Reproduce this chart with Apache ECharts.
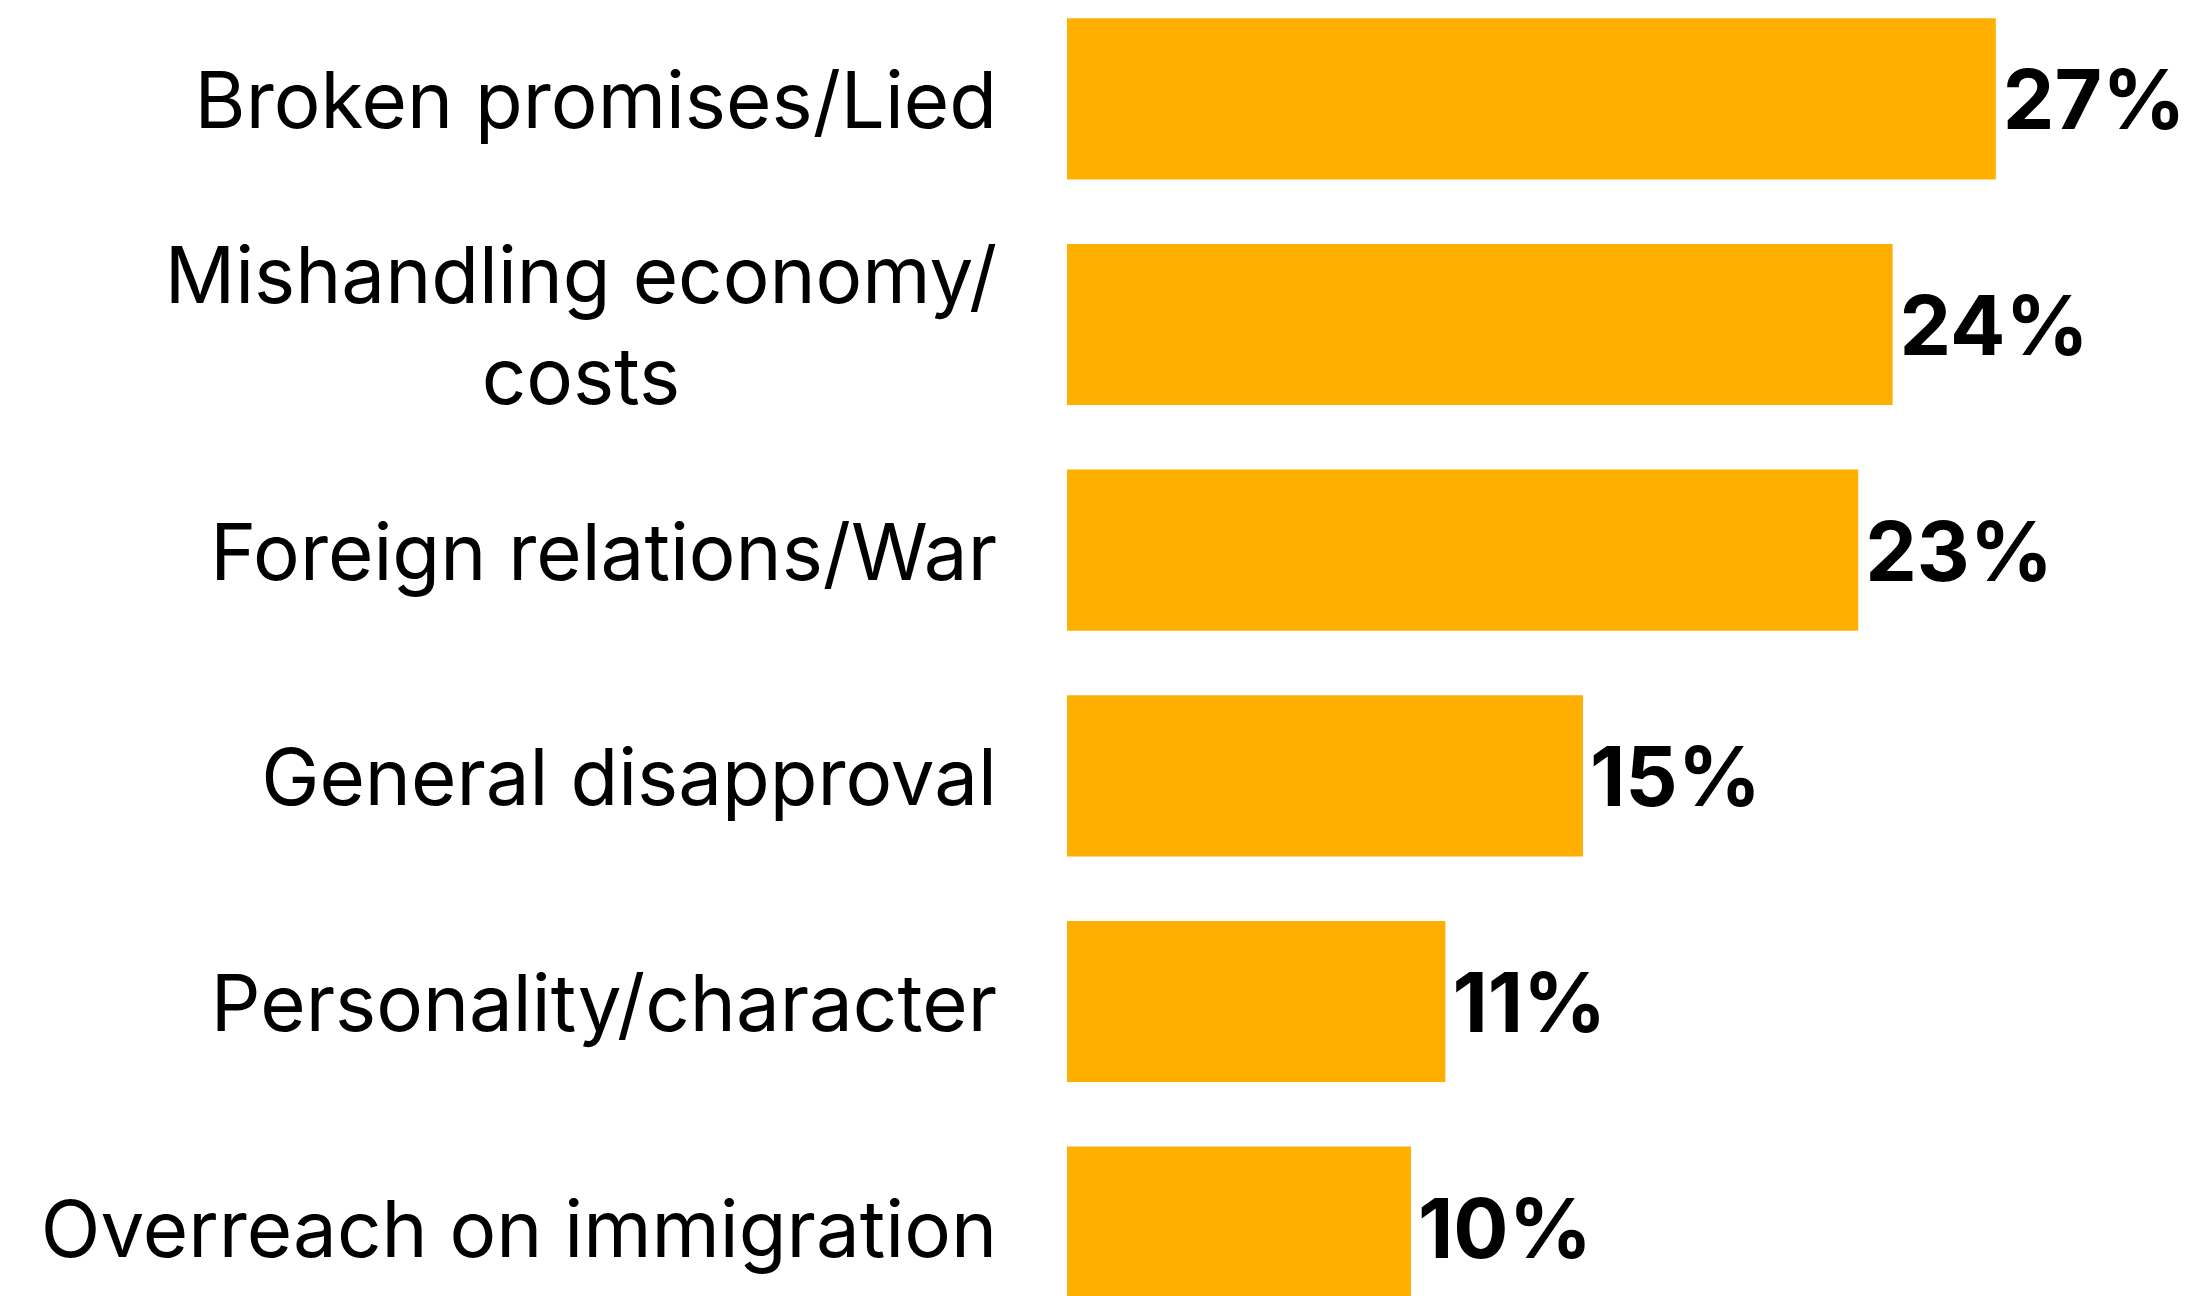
<!DOCTYPE html>
<html>
<head>
<meta charset="utf-8">
<script src="https://cdn.jsdelivr.net/npm/echarts@6/dist/echarts.min.js"></script>
<style>
html,body{margin:0;padding:0;background:#fff;}
#chart{width:2192px;height:1296px;}
</style>
</head>
<body>
<div id="chart"></div>
<script>
const categories = [
  "Broken promises/Lied",
  "Mishandling economy/\ncosts",
  "Foreign relations/War",
  "General disapproval",
  "Personality/character",
  "Overreach on immigration"
];
const values = [27, 24, 23, 15, 11, 10];

const chart = echarts.init(document.getElementById('chart'), null, {renderer: 'canvas'});
chart.setOption({
  animation: false,
  backgroundColor: '#ffffff',
  grid: {left: 1067, top: -14, width: 1032, height: 1354, containLabel: false, outerBoundsMode: 'none'},
  xAxis: {
    type: 'value', min: 0, max: 30,
    show: false
  },
  yAxis: {
    type: 'category',
    data: categories,
    inverse: true,
    axisLine: {show: false},
    axisTick: {show: false},
    splitLine: {show: false},
    axisLabel: {
      margin: 70,
      fontFamily: 'Inter',
      fontSize: 78,
      lineHeight: 101,
      color: '#000000',
      align: 'right',
      padding: [12, 0, 0, 0],
      formatter: function (v) {
        return v.split('\n').map(function (s) { return '{c|' + s + '}'; }).join('\n');
      },
      rich: {
        c: {align: 'center', fontFamily: 'Inter', fontSize: 78, lineHeight: 101, color: '#000000'}
      }
    }
  },
  series: [{
    type: 'bar',
    data: values,
    barCategoryGap: '28.6%',
    itemStyle: {color: '#FFAF00'},
    label: {
      show: true,
      position: 'right',
      distance: 7,
      offset: [0, 6],
      formatter: '{c}%',
      fontFamily: 'Inter',
      fontWeight: 700,
      fontSize: 82,
      color: '#000000'
    }
  }]
});
</script>
</body>
</html>
